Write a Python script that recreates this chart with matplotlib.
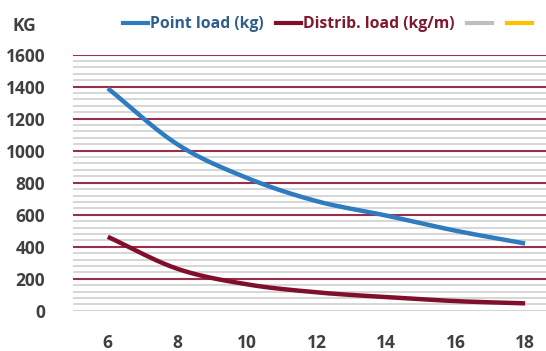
import numpy as np
import matplotlib
matplotlib.use("Agg")
import matplotlib.pyplot as plt
from matplotlib.ticker import MultipleLocator
from matplotlib.lines import Line2D

spans = [6, 8, 10, 12, 14, 16, 18]
point_load = [1390, 1040, 830, 685, 595, 500, 420]
distrib_load = [462, 262, 165, 115, 85, 60, 46]
legend_labels = ["Point load (kg)", "Distrib. load (kg/m)", "", ""]
yticks = [0, 200, 400, 600, 800, 1000, 1200, 1400, 1600]

plt.rcParams['font.family'] = ['Open Sans', 'DejaVu Sans']

def smooth(x, y, n=30):
    x = np.asarray(x, float); y = np.asarray(y, float)
    P = np.column_stack([x, y])
    P = np.vstack([2 * P[0] - P[1], P, 2 * P[-1] - P[-2]])
    out = []
    for i in range(1, len(P) - 2):
        p0, p1, p2, p3 = P[i - 1], P[i], P[i + 1], P[i + 2]
        t = np.linspace(0, 1, n)[:, None]
        c = 0.5 * ((2 * p1) + (-p0 + p2) * t + (2 * p0 - 5 * p1 + 4 * p2 - p3) * t ** 2
                   + (-p0 + 3 * p1 - 3 * p2 + p3) * t ** 3)
        out.append(c)
    c = np.vstack(out)
    return c[:, 0], c[:, 1]

fig = plt.figure(figsize=(5.46, 3.51), dpi=100)
ax = fig.add_axes([73 / 546, 1 - 310.7 / 351, 1 - 73 / 546, (310.7 - 54.7) / 351])

blue = "#2E7BC0"
red = "#7F0F2C"
sx, sy = smooth(spans, point_load)
ax.plot(sx, sy, color=blue, lw=3.2, solid_capstyle='butt', zorder=5)
sx, sy = smooth(spans, distrib_load)
ax.plot(sx, sy, color=red, lw=3.2, solid_capstyle='butt', zorder=5)

ax.set_xlim(5.0, 18.6)
ax.set_ylim(0, 1600)
ax.set_xticks(spans)
ax.set_xticklabels([str(s) for s in spans])
ax.set_yticks(yticks)
ax.yaxis.set_minor_locator(MultipleLocator(40))
ax.grid(which='minor', axis='y', color='#D3D3D3', lw=1.3)
ax.grid(which='major', axis='y', color='#9A2F4C', lw=1.5)
ax.yaxis.get_gridlines()[0].set_color('#D3D3D3')
ax.set_axisbelow(True)
for s in ax.spines.values():
    s.set_visible(False)
ax.tick_params(which='both', length=0)
ax.tick_params(axis='y', pad=20, labelsize=12.5, labelcolor='#404040')
ax.tick_params(axis='x', pad=16.5, labelsize=12.5, labelcolor='#404040')
for lab in ax.get_xticklabels() + ax.get_yticklabels():
    lab.set_fontweight('bold')

fig.text(12 / 546, 1 - 26 / 351, "KG", fontsize=12.5, fontweight='bold', color='#404040', va='center', ha='left')

handles = [Line2D([], [], color=blue, lw=3), Line2D([], [], color=red, lw=3),
           Line2D([], [], color='#BFBFBF', lw=3), Line2D([], [], color='#FFC000', lw=3)]
leg = fig.legend(handles, legend_labels, loc='center left', bbox_to_anchor=(123 / 546, 1 - 24 / 351),
                 ncol=4, frameon=False, handlelength=1.6, handletextpad=0.12, columnspacing=0.8,
                 prop={'weight': 'bold', 'size': 11.3}, borderaxespad=0, borderpad=0)
text_colors = ['#2F5E8C', '#7F1A2E', '#404040', '#404040']
for t, c in zip(leg.get_texts(), text_colors):
    t.set_color(c)

fig.savefig("out.png", dpi=100)
